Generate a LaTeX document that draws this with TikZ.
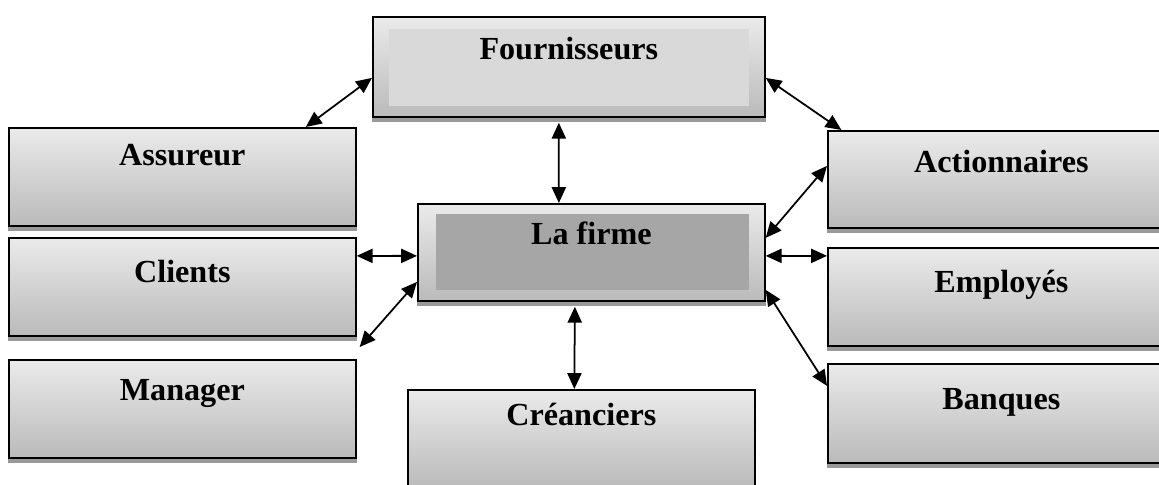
\documentclass[tikz,border=0pt]{standalone}
\usepackage{fontspec}
\setmainfont{Liberation Serif}
\usepackage{tikz}
\usetikzlibrary{arrows.meta, positioning}
\definecolor{boxtop}{gray}{0.92}
\definecolor{boxbot}{gray}{0.73}
\definecolor{shadowgray}{gray}{0.6}
\definecolor{panellight}{gray}{0.85}
\definecolor{paneldark}{gray}{0.65}

\begin{document}
\begin{tikzpicture}[x=0.02cm, y=-0.02cm,
	box/.style={draw, line width=1pt, top color=boxtop, bottom color=boxbot, anchor=north west,
		minimum width=6.94cm, minimum height=1.96cm, inner sep=0pt},
	lbl/.style={anchor=north, inner sep=0pt, text height=12.4pt, text depth=0pt,
		font=\fontsize{18.3}{22}\selectfont\bfseries},
	panel/.style 2 args={path picture={\fill[#1] ([shift={#2}]path picture bounding box.north west)
		rectangle ([shift={(-0.31cm,0.21cm)}]path picture bounding box.south east);}},
	link/.style={{Triangle[length=9pt,width=8pt]}-{Triangle[length=9pt,width=8pt]}, line width=1pt}]
	\useasboundingbox (0,0) rectangle (1159,484);
	
	%----------------------------------------------------------------
	\node(fourn) [box, minimum width=7.84cm, minimum height=2.0cm,
		panel={panellight}{(0.32cm,-0.24cm)},
		label={[lbl,yshift=-0.42cm]north:Fournisseurs}] at (372,16) {};
	\node(firme) [box, minimum height=1.94cm,
		panel={paneldark}{(0.36cm,-0.2cm)},
		label={[lbl,yshift=-0.38cm]north:La firme}] at (417,203) {};
	
	%----------------------------------------------------------------
	\node(assur) [box, label={[lbl,yshift=-0.32cm]north:Assureur}] at (8,127) {};
	\node(clients) [box, label={[lbl,yshift=-0.46cm]north:Clients}] at (8,237) {};
	\node(manager) [box, label={[lbl,yshift=-0.38cm]north:Manager}] at (8,359) {};
	
	%----------------------------------------------------------------
	\node(action) [box, minimum height=1.94cm, label={[lbl,yshift=-0.4cm]north:Actionnaires}] at (827,130) {};
	\node(employ) [box, label={[lbl,yshift=-0.46cm]north:Employés}] at (827,247) {};
	\node(banques) [box, minimum height=1.98cm, label={[lbl,yshift=-0.48cm]north:Banques}] at (827,363) {};
	
	\node(cred) [box, label={[lbl,yshift=-0.28cm]north:Créanciers}] at (407,389) {};
	
	%----------------------------------------------------------------
	\foreach \n in {fourn,firme,assur,clients,manager,action,employ,banques,cred}
		\fill[shadowgray] ([yshift=-0.4pt]\n.south west) rectangle ([yshift=-0.09cm]\n.south east);
	
	%----------------------------------------------------------------
	\draw[link] ([yshift=-0.22cm]fourn.west) -- ([xshift=2.47cm]assur.north);
	\draw[link] ([yshift=-0.22cm]fourn.east) -- ([xshift=-3.2cm]action.north);
	\draw[link] ([xshift=-0.2cm,yshift=-0.1cm]fourn.south) -- ([xshift=-0.65cm]firme.north);
	
	\draw[link] ([yshift=0.62cm]clients.east) -- ([yshift=-0.07cm]firme.west);
	\draw[link] ([yshift=-0.59cm]firme.west) -- ([xshift=0.06cm,yshift=0.24cm]manager.north east);
	
	\draw[link] ([yshift=0.29cm]firme.east) -- ([yshift=0.27cm]action.west);
	\draw[link] ([yshift=-0.07cm]firme.east) -- ([yshift=0.82cm]employ.west);
	\draw[link] ([yshift=-0.75cm]firme.east) -- ([yshift=0.55cm]banques.west);
	
	\draw[link] ([xshift=-0.33cm,yshift=-0.1cm]firme.south) -- ([xshift=-0.14cm]cred.north);
	
\end{tikzpicture}
\end{document}
